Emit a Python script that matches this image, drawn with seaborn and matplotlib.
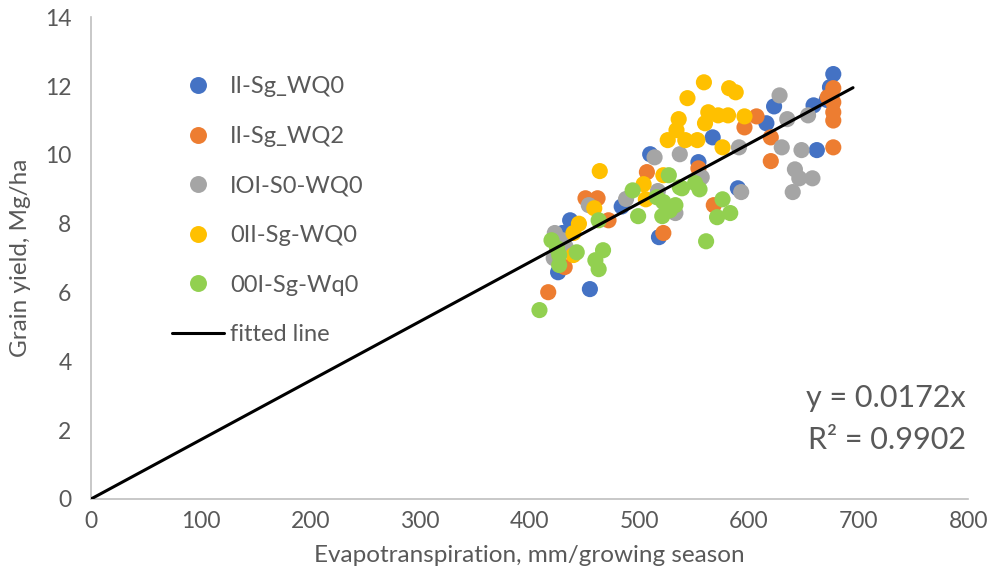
import numpy as np
import pandas as pd
import matplotlib
matplotlib.use("Agg")
import matplotlib.pyplot as plt
import seaborn as sns

# Series (ET in mm, yield in Mg/ha)
series_names = ["II-Sg_WQ0", "II-Sg_WQ2", "IOI-S0-WQ0", "0II-Sg-WQ0", "00I-Sg-Wq0"]

blue_x = [677, 674, 659, 623, 616, 567, 662, 554, 510, 590, 484, 518, 437, 430, 426, 455, 671]
blue_y = [12.35, 11.97, 11.44, 11.41, 10.92, 10.51, 10.14, 9.79, 10.02, 9.03, 8.50, 7.61, 8.10, 7.73, 6.59, 6.10, 11.6]

orange_x = [677, 672, 677, 677, 677, 607, 596, 620, 677, 620, 554, 568, 507, 451, 462, 472, 522, 432, 417]
orange_y = [11.94, 11.68, 11.53, 11.24, 11.00, 11.12, 10.80, 10.51, 10.22, 9.82, 9.61, 8.54, 9.50, 8.74, 8.74, 8.10, 7.73, 6.74, 6.01]

gray_x = [628, 654, 635, 591, 630, 648, 642, 646, 658, 640, 593, 557, 537, 514, 517, 533, 488, 454, 423, 430, 433, 422]
gray_y = [11.73, 11.15, 11.04, 10.22, 10.22, 10.14, 9.58, 9.32, 9.32, 8.92, 8.92, 9.35, 10.02, 9.93, 8.95, 8.31, 8.72, 8.54, 7.73, 7.52, 7.32, 7.00]

yellow_x = [559, 582, 588, 544, 563, 572, 581, 596, 560, 536, 534, 526, 542, 553, 576, 464, 504, 522, 506, 459, 445, 440, 440]
yellow_y = [12.11, 11.94, 11.82, 11.65, 11.24, 11.15, 11.15, 11.12, 10.92, 11.04, 10.72, 10.43, 10.43, 10.43, 10.22, 9.53, 9.15, 9.41, 8.71, 8.45, 8.00, 7.73, 7.09]

green_x = [551, 555, 576, 583, 571, 561, 539, 527, 494, 537, 516, 522, 533, 528, 521, 499, 463, 420, 443, 427, 427, 425, 467, 460, 463, 409]
green_y = [9.18, 9.00, 8.71, 8.31, 8.19, 7.49, 9.03, 9.41, 8.97, 9.06, 8.77, 8.63, 8.54, 8.39, 8.22, 8.22, 8.10, 7.52, 7.17, 7.09, 6.80, 7.29, 7.23, 6.94, 6.68, 5.49]

slope = 0.0172
r2 = 0.9902
fit_x = [0, 695]

colors = ["#4472C4", "#ED7D31", "#A5A5A5", "#FFC000", "#92D050"]

frames = []
for name, xs, ys in zip(series_names,
                        [blue_x, orange_x, gray_x, yellow_x, green_x],
                        [blue_y, orange_y, gray_y, yellow_y, green_y]):
    frames.append(pd.DataFrame({"et": xs, "yield": ys, "series": name}))
df = pd.concat(frames, ignore_index=True)

fit_df = pd.DataFrame({"et": fit_x, "yield": [slope * v for v in fit_x]})

sns.set_style("white")
plt.rcParams["font.family"] = ["Lato", "DejaVu Sans"]

fig = plt.figure(figsize=(9.95, 5.86), dpi=100)
ax = fig.add_axes([0.0915, 0.1485, 0.8815, 0.822])

sns.scatterplot(data=df, x="et", y="yield", hue="series", hue_order=series_names,
                palette=dict(zip(series_names, colors)), s=135, linewidth=0,
                alpha=1, ax=ax, zorder=3)
sns.lineplot(data=fit_df, x="et", y="yield", color="black", linewidth=2.2,
             label="fitted line", ax=ax, zorder=4)

ax.set_xlim(0, 800)
ax.set_ylim(0, 14)
ax.set_xticks(range(0, 801, 100))
ax.set_yticks(range(0, 15, 2))
ax.tick_params(axis="both", labelsize=16.5, colors="#595959", length=0)
ax.tick_params(axis="x", pad=9)
ax.tick_params(axis="y", pad=14)

for side in ["top", "right"]:
    ax.spines[side].set_visible(False)
for side in ["left", "bottom"]:
    ax.spines[side].set_color("#BFBFBF")
    ax.spines[side].set_linewidth(1.2)

ax.set_xlabel("Evapotranspiration, mm/growing season", fontsize=17.5, color="#595959", labelpad=9)
ax.set_ylabel("Grain yield, Mg/ha", fontsize=17.5, color="#595959", labelpad=10)

ax.text(0.997, 0.21, f"y = {slope}x", transform=ax.transAxes, fontsize=22,
        color="#595959", ha="right", va="center")
ax.text(0.997, 0.122, f"R² = {r2}", transform=ax.transAxes, fontsize=22,
        color="#595959", ha="right", va="center")

leg = ax.legend(loc="upper left", bbox_to_anchor=(0.082, 0.897), frameon=False,
                fontsize=17, labelspacing=1.21, handletextpad=0.25, handlelength=2.2,
                borderaxespad=0, markerscale=1.05, labelcolor="#595959")

fig.savefig("out.png", dpi=100)
